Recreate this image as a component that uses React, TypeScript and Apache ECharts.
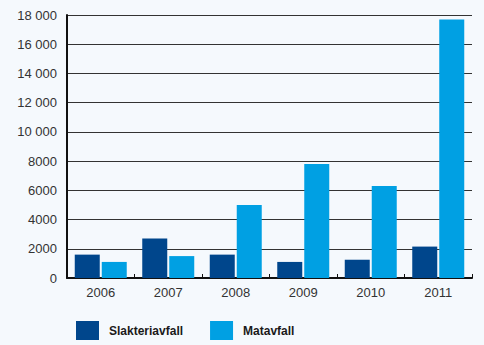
import React, { useEffect, useRef } from "react";
import * as echarts from "echarts";

const years = ["2006", "2007", "2008", "2009", "2010", "2011"];
const slakteriavfall = [1600, 2700, 1600, 1100, 1250, 2150];
const matavfall = [1100, 1500, 5000, 7800, 6300, 17700];

const fmt = (v: number) => {
  if (v >= 10000) {
    const s = String(v);
    return s.slice(0, s.length - 3) + " " + s.slice(s.length - 3);
  }
  return String(v);
};

export default function App() {
  const ref = useRef<HTMLDivElement>(null);
  useEffect(() => {
    const chart = echarts.init(ref.current!, null, { renderer: "svg" });
    chart.setOption({
      animation: false,
      backgroundColor: "#F5F9FD",
      textStyle: { fontFamily: "Liberation Sans, Arial, sans-serif" },
      grid: { left: 67, right: 12, top: 15, bottom: 67, containLabel: false },
      legend: {
        left: 76,
        top: 321,
        itemWidth: 23,
        itemHeight: 19,
        itemGap: 27,
        icon: "rect",
        padding: 0,
        textStyle: { fontSize: 12, fontWeight: "bold", color: "#1a1a1a", padding: [0, 0, 0, 5] },
        data: ["Slakteriavfall", "Matavfall"],
      },
      xAxis: {
        type: "category",
        data: years,
        axisLine: { lineStyle: { color: "#111", width: 2 } },
        axisTick: { show: true, inside: true, length: 4, lineStyle: { color: "#111" } },
        axisLabel: { color: "#333", fontSize: 13, margin: 8 },
      },
      yAxis: {
        type: "value",
        min: 0,
        max: 18000,
        interval: 2000,
        axisLine: { show: true, lineStyle: { color: "#111", width: 2 } },
        axisTick: { show: false },
        axisLabel: { color: "#333", fontSize: 13, margin: 10, formatter: fmt },
        splitLine: { lineStyle: { color: "#333", width: 1 } },
      },
      series: [
        {
          name: "Slakteriavfall",
          type: "bar",
          data: slakteriavfall,
          barWidth: 25,
          barGap: "8%",
          itemStyle: { color: "#00468C" },
        },
        {
          name: "Matavfall",
          type: "bar",
          data: matavfall,
          barWidth: 25,
          itemStyle: { color: "#00A0E3" },
        },
      ],
    });
    return () => chart.dispose();
  }, []);
  return <div ref={ref} style={{ width: 484, height: 345, position: "absolute", left: 0, top: 0 }} />;
}
